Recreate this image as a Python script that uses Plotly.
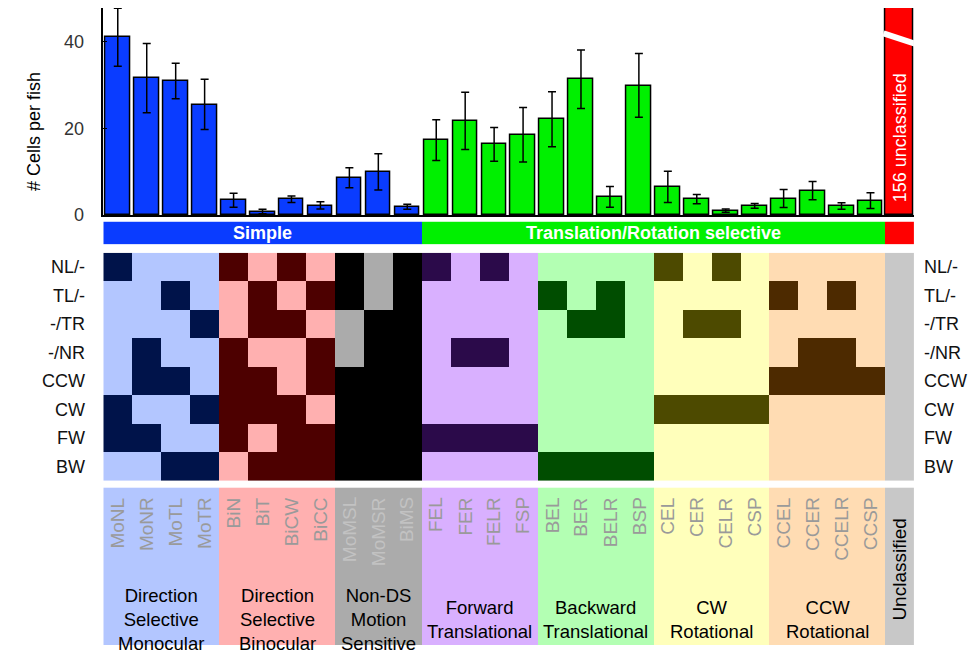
import plotly.graph_objects as go

W, H = 973, 655
FONT = "Liberation Sans, Arial, Helvetica, sans-serif"

# ---- data -------------------------------------------------------------
cell_types = ["MoNL", "MoNR", "MoTL", "MoTR",
              "BiN", "BiT", "BiCW", "BiCC",
              "MoMSL", "MoMSR", "BiMS",
              "FEL", "FER", "FELR", "FSP",
              "BEL", "BER", "BELR", "BSP",
              "CEL", "CER", "CELR", "CSP",
              "CCEL", "CCER", "CCELR", "CCSP"]
cells_per_fish = [41.0, 31.6, 30.9, 25.5,
                  3.4, 0.8, 3.65, 2.2,
                  8.6, 9.95, 1.9,
                  17.3, 21.7, 16.3, 18.5,
                  22.1, 31.3, 4.2, 29.9,
                  6.5, 3.65, 1.0, 2.1,
                  3.8, 5.6, 2.05, 3.3]
cells_sem = [6.7, 8.0, 4.1, 5.8,
             1.6, 0.5, 0.75, 0.85,
             2.3, 4.2, 0.6,
             4.7, 6.6, 3.9, 6.3,
             6.35, 6.75, 2.4, 7.35,
             3.6, 1.05, 0.4, 0.55,
             2.05, 2.1, 0.75, 1.8]
unclassified_cells = 156

group_names = ["Direction<br>Selective<br>Monocular",
               "Direction<br>Selective<br>Binocular",
               "Non-DS<br>Motion<br>Sensitive",
               "Forward<br>Translational",
               "Backward<br>Translational",
               "CW<br>Rotational",
               "CCW<br>Rotational"]
group_sizes = [4, 4, 3, 4, 4, 4, 4]
class_names = ["Simple", "Translation/Rotation selective"]
class_group_counts = [3, 4]

stimuli = ["NL/-", "TL/-", "-/TR", "-/NR", "CCW", "CW", "FW", "BW"]
# 1 = responds to the stimulus, one row per stimulus, one column per cell type
response = [
    [1, 0, 0, 0, 1, 0, 1, 0, 1, 0, 1, 1, 0, 1, 0, 0, 0, 0, 0, 1, 0, 1, 0, 0, 0, 0, 0],
    [0, 0, 1, 0, 0, 1, 0, 1, 1, 0, 1, 0, 0, 0, 0, 1, 0, 1, 0, 0, 0, 0, 0, 1, 0, 1, 0],
    [0, 0, 0, 1, 0, 1, 1, 0, 0, 1, 1, 0, 0, 0, 0, 0, 1, 1, 0, 0, 1, 1, 0, 0, 0, 0, 0],
    [0, 1, 0, 0, 1, 0, 0, 1, 0, 1, 1, 0, 1, 1, 0, 0, 0, 0, 0, 0, 0, 0, 0, 0, 1, 1, 0],
    [0, 1, 1, 0, 1, 1, 0, 1, 1, 1, 1, 0, 0, 0, 0, 0, 0, 0, 0, 0, 0, 0, 0, 1, 1, 1, 1],
    [1, 0, 0, 1, 1, 1, 1, 0, 1, 1, 1, 0, 0, 0, 0, 0, 0, 0, 0, 1, 1, 1, 1, 0, 0, 0, 0],
    [1, 1, 0, 0, 1, 0, 1, 1, 1, 1, 1, 1, 1, 1, 1, 0, 0, 0, 0, 0, 0, 0, 0, 0, 0, 0, 0],
    [0, 0, 1, 1, 0, 1, 1, 1, 1, 1, 1, 0, 0, 0, 0, 1, 1, 1, 1, 0, 0, 0, 0, 0, 0, 0, 0],
]

# ---- styling ----------------------------------------------------------
group_light = ["#b3c6ff", "#ffb0b0", "#ababab", "#d9b0ff", "#b3ffb3", "#ffffbb", "#ffdcb3"]
group_dark = ["#00134a", "#4d0000", "#000000", "#2b0a4a", "#004d00", "#4d4a00", "#4d2a00"]
unclassified_grey = "#c8c8c8"
class_colors = ["#0a3cff", "#00f000"]
unclassified_red = "#ff0000"


def fx(p):
    return p / W


def fy(p):
    return 1 - p / H


n = len(cell_types)
xs = list(range(n))
x_uncl = n

# group index and class index for each cell type
group_of = []
for g, s in enumerate(group_sizes):
    group_of += [g] * s
class_of_group = []
for c, k in enumerate(class_group_counts):
    class_of_group += [c] * k
class_of = [class_of_group[g] for g in group_of]


def discrete_scale(colors):
    k = len(colors)
    scale = []
    for i, c in enumerate(colors):
        scale += [[i / k, c], [(i + 1) / k, c]]
    return scale


# heat-map palette: code 2g = light of group g, 2g+1 = dark of group g, last = unclassified
palette = []
for g in range(len(group_sizes)):
    palette += [group_light[g], group_dark[g]]
palette.append(unclassified_grey)
code_uncl = len(palette) - 1

z_matrix = [[2 * group_of[j] + row[j] for j in range(n)] + [code_uncl] for row in response]
z_labels = [[2 * group_of[j] for j in range(n)] + [code_uncl]]
z_class = [[class_of[j] for j in range(n)] + [len(class_colors)]]

fig = go.Figure()

bar_colors = [class_colors[c] for c in class_of]
fig.add_trace(go.Bar(
    x=xs, y=cells_per_fish, width=0.85,
    marker=dict(color=bar_colors, line=dict(color="black", width=1.5)),
    error_y=dict(type="data", array=cells_sem, color="black", thickness=1.5, width=4),
    xaxis="x", yaxis="y", showlegend=False, hoverinfo="skip",
))
fig.add_trace(go.Bar(
    x=[x_uncl], y=[unclassified_cells], width=0.95,
    marker=dict(color=unclassified_red, line=dict(color="black", width=1.5)),
    xaxis="x", yaxis="y", showlegend=False, hoverinfo="skip",
))

fig.add_trace(go.Heatmap(
    x=xs + [x_uncl], y=[0], z=z_class,
    colorscale=discrete_scale(class_colors + [unclassified_red]),
    zmin=-0.5, zmax=len(class_colors) + 0.5, showscale=False,
    xaxis="x3", yaxis="y3", hoverinfo="skip",
))
fig.add_trace(go.Heatmap(
    x=xs + [x_uncl], y=stimuli, z=z_matrix,
    colorscale=discrete_scale(palette), zmin=-0.5, zmax=len(palette) - 0.5,
    showscale=False, xaxis="x2", yaxis="y2", hoverinfo="skip",
))
fig.add_trace(go.Heatmap(
    x=xs + [x_uncl], y=[0], z=z_labels,
    colorscale=discrete_scale(palette), zmin=-0.5, zmax=len(palette) - 0.5,
    showscale=False, xaxis="x4", yaxis="y4", hoverinfo="skip",
))

x_dom = [fx(103.3), fx(913.9)]
y_top = 47.8
hidden = dict(visible=False, showgrid=False, zeroline=False)

fig.update_layout(
    width=W, height=H,
    margin=dict(l=0, r=0, t=0, b=0),
    paper_bgcolor="white", plot_bgcolor="rgba(0,0,0,0)",
    font=dict(family=FONT, color="black"),
    bargap=0,
    xaxis=dict(domain=x_dom, range=[-0.5, n + 0.5], anchor="y", showticklabels=False,
               ticks="", showline=True, linecolor="black", linewidth=1.5,
               showgrid=False, zeroline=False),
    yaxis=dict(domain=[fy(218.3), fy(8)], range=[0, y_top], anchor="x",
               tickvals=[0, 20, 40], ticks="inside", ticklen=4, tickwidth=1.2,
               tickcolor="black", ticklabelstandoff=14,
               tickfont=dict(size=18, color="#333333", family=FONT),
               showline=True, linecolor="black", linewidth=1.5,
               showgrid=False, zeroline=False),
    xaxis2=dict(domain=x_dom, matches="x", anchor="y2", **hidden),
    yaxis2=dict(domain=[fy(488.3), fy(256.7)], anchor="x2", type="category",
                autorange="reversed", **hidden),
    xaxis3=dict(domain=x_dom, matches="x", anchor="y3", **hidden),
    yaxis3=dict(domain=[fy(248), fy(225)], anchor="x3", range=[-0.5, 0.5], **hidden),
    xaxis4=dict(domain=x_dom, matches="x", anchor="y4", **hidden),
    yaxis4=dict(domain=[0, fy(495)], anchor="x4", range=[-0.5, 0.5], **hidden),
)

ann = []
# y-axis title
ann.append(dict(text="# Cells per fish", xref="paper", yref="paper", x=fx(34), y=fy(134),
                xanchor="center", yanchor="middle",
                textangle=-90, showarrow=False, font=dict(size=18, color="black")))
# label inside the unclassified bar
ann.append(dict(text=f"{unclassified_cells} unclassified", xref="x", yref="paper",
                x=x_uncl, y=fy(140), xanchor="center", yanchor="middle",
                textangle=-90, showarrow=False,
                font=dict(size=18, color="white")))
# class band labels
for c, k in enumerate(class_group_counts):
    cols = [j for j in range(n) if class_of[j] == c]
    ann.append(dict(text=f"<b>{class_names[c]}</b>", xref="x3", yref="y3",
                    x=(cols[0] + cols[-1]) / 2, y=0, xanchor="center", yanchor="middle",
                    showarrow=False, font=dict(size=18, color="white")))
# stimulus labels on both sides of the matrix
for s in stimuli:
    ann.append(dict(text=s, xref="paper", yref="y2", x=fx(87), y=s, xanchor="right",
                    yanchor="middle", showarrow=False, font=dict(size=18, color="#111111")))
    ann.append(dict(text=s, xref="paper", yref="y2", x=fx(922), y=s, xanchor="left",
                    yanchor="middle", showarrow=False, font=dict(size=18, color="#111111")))
# cell-type names
for j, name in enumerate(cell_types):
    col = "#c2c2c2" if group_of[j] == 2 else "#9a9a9a"
    ann.append(dict(text=name, xref="x4", yref="paper", x=j, y=fy(503),
                    xanchor="center", yanchor="top",
                    textangle=-90, showarrow=False, font=dict(size=19, color=col)))
# group names
start = 0
for g, s in enumerate(group_sizes):
    ann.append(dict(text=group_names[g], xref="x4", yref="paper",
                    x=start + (s - 1) / 2, y=fy(629), xanchor="center", yanchor="middle",
                    showarrow=False, font=dict(size=18.5, color="black")))
    start += s
ann.append(dict(text="Unclassified", xref="x4", yref="paper", x=x_uncl, y=fy(578),
                xanchor="center", yanchor="middle",
                textangle=-90, showarrow=False, font=dict(size=19, color="black")))
fig.update_layout(annotations=ann)

# axis-break mark across the off-scale unclassified bar
fig.add_shape(type="line", xref="x", yref="y",
              x0=x_uncl - 0.55, y0=41.9, x1=x_uncl + 0.55, y1=39.5,
              line=dict(color="white", width=6))

fig.write_html("out.html")
